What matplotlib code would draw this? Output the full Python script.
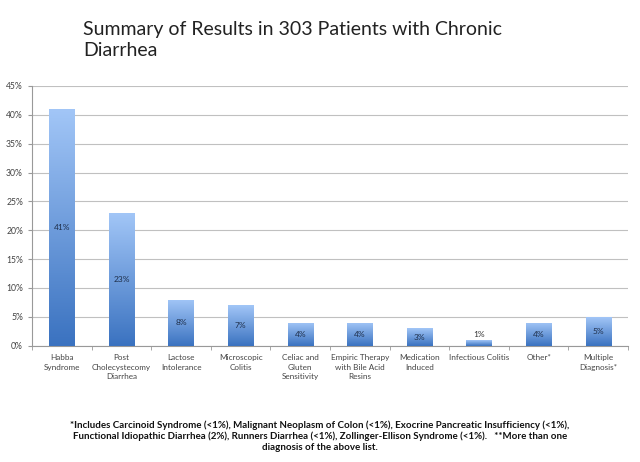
import matplotlib
matplotlib.use("Agg")
import matplotlib.pyplot as plt
import numpy as np
from matplotlib.colors import LinearSegmentedColormap
from matplotlib.ticker import FuncFormatter

plt.rcParams['font.family'] = ['Lato', 'DejaVu Sans']

categories = ["Habba\nSyndrome", "Post\nCholecystecomy\nDiarrhea", "Lactose\nIntolerance",
              "Microscopic\nColitis", "Celiac and\nGluten\nSensitivity",
              "Empiric Therapy\nwith Bile Acid\nResins", "Medication\nInduced",
              "Infectious Colitis", "Other*", "Multiple\nDiagnosis*"]
values = [41, 23, 8, 7, 4, 4, 3, 1, 4, 5]
labels = ["41%", "23%", "8%", "7%", "4%", "4%", "3%", "1%", "4%", "5%"]
yticks = [0, 5, 10, 15, 20, 25, 30, 35, 40, 45]

title = "Summary of Results in 303 Patients with Chronic\nDiarrhea"
footnote = ("*Includes Carcinoid Syndrome (<1%), Malignant Neoplasm of Colon (<1%), Exocrine Pancreatic Insufficiency (<1%),\n"
            "Functional Idiopathic Diarrhea (2%), Runners Diarrhea (<1%), Zollinger-Ellison Syndrome (<1%).   **More than one\n"
            "diagnosis of the above list.")

fig = plt.figure(figsize=(6.4, 4.62), dpi=100)
ax = fig.add_axes([32/640, 1 - 345.7/462, 596/640, (345.7 - 86)/462])

x = np.arange(len(values))
bw = 0.42
bars = ax.bar(x, values, width=bw, color='none', edgecolor='none', zorder=3)
cmap = LinearSegmentedColormap.from_list("g", ["#3a72c0", "#a2c6f7"])
grad = np.linspace(0, 1, 256).reshape(-1, 1)
for b in bars:
    xl = b.get_x(); w = b.get_width(); h = b.get_height()
    im = ax.imshow(grad, extent=(xl, xl + w, 0, h), origin='lower', cmap=cmap,
                   aspect='auto', zorder=3)
    im.set_clip_path(b)

for xi, v, lab in zip(x, values, labels):
    if v < 2:
        ax.text(xi, v + 0.3, lab, ha='center', va='bottom', fontsize=6, color='#333333', zorder=4)
    else:
        ax.text(xi, v / 2, lab, ha='center', va='center', fontsize=6, color='#1f2f4a', zorder=4)

ax.set_xlim(-0.5, len(values) - 0.5)
ax.set_ylim(0, 45)
ax.set_yticks(yticks)
ax.yaxis.set_major_formatter(FuncFormatter(lambda v, p: f"{int(v)}%"))
ax.grid(axis='y', color='#c0c0c0', linewidth=0.8, zorder=0)
ax.set_axisbelow(True)
ax.set_xticks(x)
ax.set_xticklabels(categories, fontsize=5.9, color='#444444', linespacing=1.45)
ax.set_xticks(np.arange(len(values) + 1) - 0.5, minor=True)
ax.tick_params(axis='x', which='major', length=0, pad=6)
ax.tick_params(axis='x', which='minor', length=3, color='#999999')
ax.tick_params(axis='y', labelsize=6.2, labelcolor='#444444', length=3, color='#999999')
for s in ['top', 'right']:
    ax.spines[s].set_visible(False)
ax.spines['left'].set_color('#999999')
ax.spines['bottom'].set_color('#999999')

fig.text(83/640, 1 - 21/462, title, ha='left', va='top', fontsize=14, color='#222222', linespacing=1.3)
fig.text(320/640, 1 - 420/462, footnote, ha='center', va='top', fontsize=7, color='#111111',
         fontweight='bold', linespacing=1.3)

fig.savefig("out.png", dpi=100)
